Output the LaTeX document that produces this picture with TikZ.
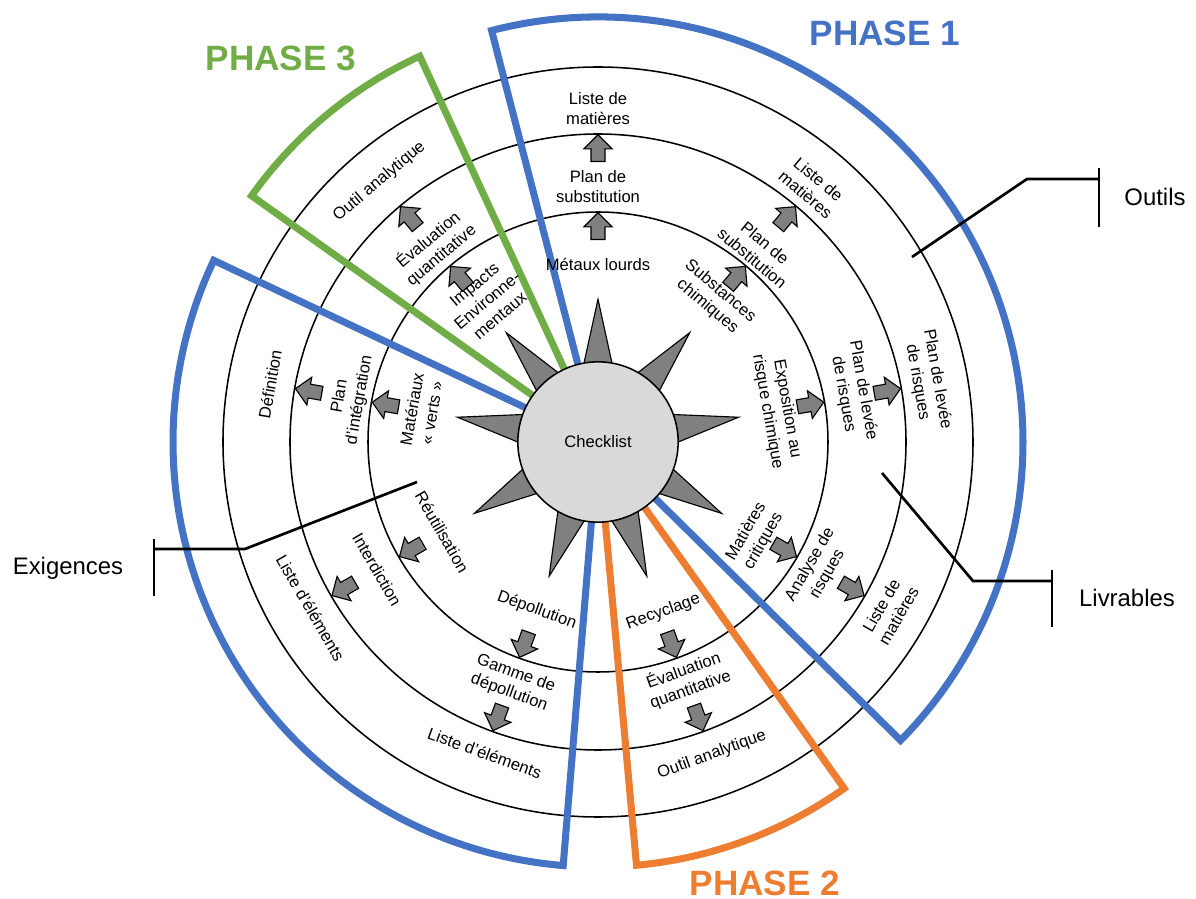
\documentclass[tikz,border=0pt]{standalone}
\usepackage{fontspec}
\setmainfont{Liberation Sans}
\usetikzlibrary{shapes.geometric,shapes.arrows}

\definecolor{phaseblue}{HTML}{4472C4}
\definecolor{phasegreen}{HTML}{70AD47}
\definecolor{phaseorange}{HTML}{ED7D31}

\begin{document}
\begin{tikzpicture}[x=0.025cm, y=0.025cm]

  \tikzstyle{ring}=[draw, line width=1.1pt]
  \tikzstyle{lbl}=[inner sep=0pt, align=center, font=\fontsize{11.8}{14.2}\selectfont]
  \tikzstyle{flow}=[single arrow, draw, fill=gray, line width=0.8pt, inner xsep=0pt, inner ysep=4.6pt,
                    single arrow head extend=5pt, minimum height=19pt, anchor=tip]
  \tikzstyle{phase}=[line width=5pt]
  \tikzstyle{title}=[inner sep=0pt, font=\fontsize{25}{30}\selectfont\bfseries]
  \tikzstyle{side}=[inner sep=0pt, font=\fontsize{17}{20}\selectfont]
  \tikzstyle{bracket}=[line width=1.9pt]

  \useasboundingbox (-598,-457) rectangle (598,442);

  % rings
  \draw[ring] (0,0) circle[radius=230];
  \draw[ring] (0,0) circle[radius=308];
  \draw[ring] (0,0) circle[radius=375];

  % phases
  \draw[phase, phaseblue] (0,0) -- (104.5:425) arc[start angle=104.5, end angle=-44.6, radius=425] -- cycle;
  \draw[phase, phaseblue] (0,0) -- (154.7:425) arc[start angle=154.7, end angle=265.3, radius=425] -- cycle;
  \draw[phase, phasegreen] (0,0) -- (114.8:425) arc[start angle=114.8, end angle=144.6, radius=425] -- cycle;
  \draw[phase, phaseorange] (0,0) -- (-84.8:425) arc[start angle=-84.8, end angle=-54.6, radius=425] -- cycle;

  % centre
  \node[star, star points=9, star point ratio=2.5, minimum size=203pt, inner sep=0pt,
        draw, fill=gray, line width=0.8pt] (spikes) at (0,0) {};
  \node[circle, draw, fill=gray!30, minimum size=114pt, line width=1.1pt, lbl] (checklist) at (0,0) {Checklist};

  % 90
  \node[lbl] (metaux) at (90:178) {Métaux lourds};
  \node[lbl] (subst-a) at (90:255) {Plan de\\substitution};
  \node[lbl] (liste-a) at (90:333) {Liste de\\matières};
  \node[flow, rotate=90] (a1) at (90:230) {};
  \node[flow, rotate=90] (a2) at (90:308) {};

  % 50
  \node[lbl, rotate=-40] (chim) at (51:184) {Substances\\chimiques};
  \node[lbl, rotate=-40] (subst-b) at (50:250) {Plan de\\substitution};
  \node[lbl, rotate=-40] (liste-b) at (50:333) {Liste de\\matières};
  \node[flow, rotate=50] (a3) at (50:230) {};
  \node[flow, rotate=50] (a4) at (50:308) {};

  % 10
  \node[lbl, rotate=-80] (expo) at (10:182) {Exposition au\\risque chimique};
  \node[lbl, rotate=-80] (levee-a) at (11:260) {Plan de levée\\de risques};
  \node[lbl, rotate=-80] (levee-b) at (10.5:335) {Plan de levée\\de risques};
  \node[flow, rotate=10] (a5) at (10:230) {};
  \node[flow, rotate=10] (a6) at (10:308) {};

  % -30
  \node[lbl, rotate=60] (crit) at (-31:183) {Matières\\critiques};
  \node[lbl, rotate=60] (analyse) at (-30:255) {Analyse de\\risques};
  \node[lbl, rotate=60] (liste-c) at (-30:337) {Liste de\\matières};
  \node[flow, rotate=-30] (a7) at (-30:230) {};
  \node[flow, rotate=-30] (a8) at (-30:308) {};

  % -70
  \node[lbl, rotate=20] (recyc) at (-69:182) {Recyclage};
  \node[lbl, rotate=20] (eval-a) at (-69.5:254) {Évaluation\\quantitative};
  \node[lbl, rotate=20] (outil-a) at (-70:333) {Outil analytique};
  \node[flow, rotate=-70] (a9) at (-70:230) {};
  \node[flow, rotate=-70] (a10) at (-70:308) {};

  % -110
  \node[lbl, rotate=-20] (depol) at (-110:179) {Dépollution};
  \node[lbl, rotate=-20] (gamme) at (-109.5:256) {Gamme de\\dépollution};
  \node[lbl, rotate=-20] (elem-a) at (-110:331) {Liste d’éléments};
  \node[flow, rotate=-110] (a11) at (-110:230) {};
  \node[flow, rotate=-110] (a12) at (-110:308) {};

  % -150
  \node[lbl, rotate=-60] (reutil) at (-150:180) {Réutilisation};
  \node[lbl, rotate=-60] (interd) at (-150:255) {Interdiction};
  \node[lbl, rotate=-60] (elem-b) at (-150:332) {Liste d’éléments};
  \node[flow, rotate=-150] (a13) at (-150:230) {};
  \node[flow, rotate=-150] (a14) at (-150:308) {};

  % 170
  \node[lbl, rotate=80] (verts) at (170:179) {Matériaux\\« verts »};
  \node[lbl, rotate=80] (integ) at (170:252) {Plan\\d’intégration};
  \node[lbl, rotate=80] (defin) at (170:333) {Définition};
  \node[flow, rotate=170] (a15) at (170:230) {};
  \node[flow, rotate=170] (a16) at (170:308) {};

  % 130
  \node[lbl, rotate=40] (impacts) at (128:180) {Impacts\\Environne-\\mentaux};
  \node[lbl, rotate=40] (eval-b) at (130:254) {Évaluation\\quantitative};
  \node[lbl, rotate=40] (outil-b) at (130:340) {Outil analytique};
  \node[flow, rotate=130] (a17) at (130:230) {};
  \node[flow, rotate=130] (a18) at (130:308) {};

  % phase titles
  \node[title, phaseblue] (p1) at (287,409) {PHASE 1};
  \node[title, phaseorange] (p2) at (167,-441) {PHASE 2};
  \node[title, phasegreen] (p3) at (-317,384) {PHASE 3};

  % brackets
  \node[side] (outils) at (557,245) {Outils};
  \coordinate (outils-end) at (314,185);
  \coordinate (outils-knee) at (429,263);
  \coordinate (outils-bar) at (501,263);
  \draw[bracket] (outils-end) -- (outils-knee) -- (outils-bar);
  \draw[bracket] (501,274) -- (501,215);

  \node[side] (livr) at (529,-156) {Livrables};
  \coordinate (livr-end) at (284,-31);
  \coordinate (livr-knee) at (375,-139);
  \coordinate (livr-bar) at (454,-139);
  \draw[bracket] (livr-end) -- (livr-knee) -- (livr-bar);
  \draw[bracket] (454,-128) -- (454,-185);

  \node[side] (exig) at (-530,-126) {Exigences};
  \coordinate (exig-end) at (-181,-40);
  \coordinate (exig-knee) at (-353,-107);
  \coordinate (exig-bar) at (-444,-107);
  \draw[bracket] (exig-end) -- (exig-knee) -- (exig-bar);
  \draw[bracket] (-444,-97) -- (-444,-154);

\end{tikzpicture}
\end{document}
